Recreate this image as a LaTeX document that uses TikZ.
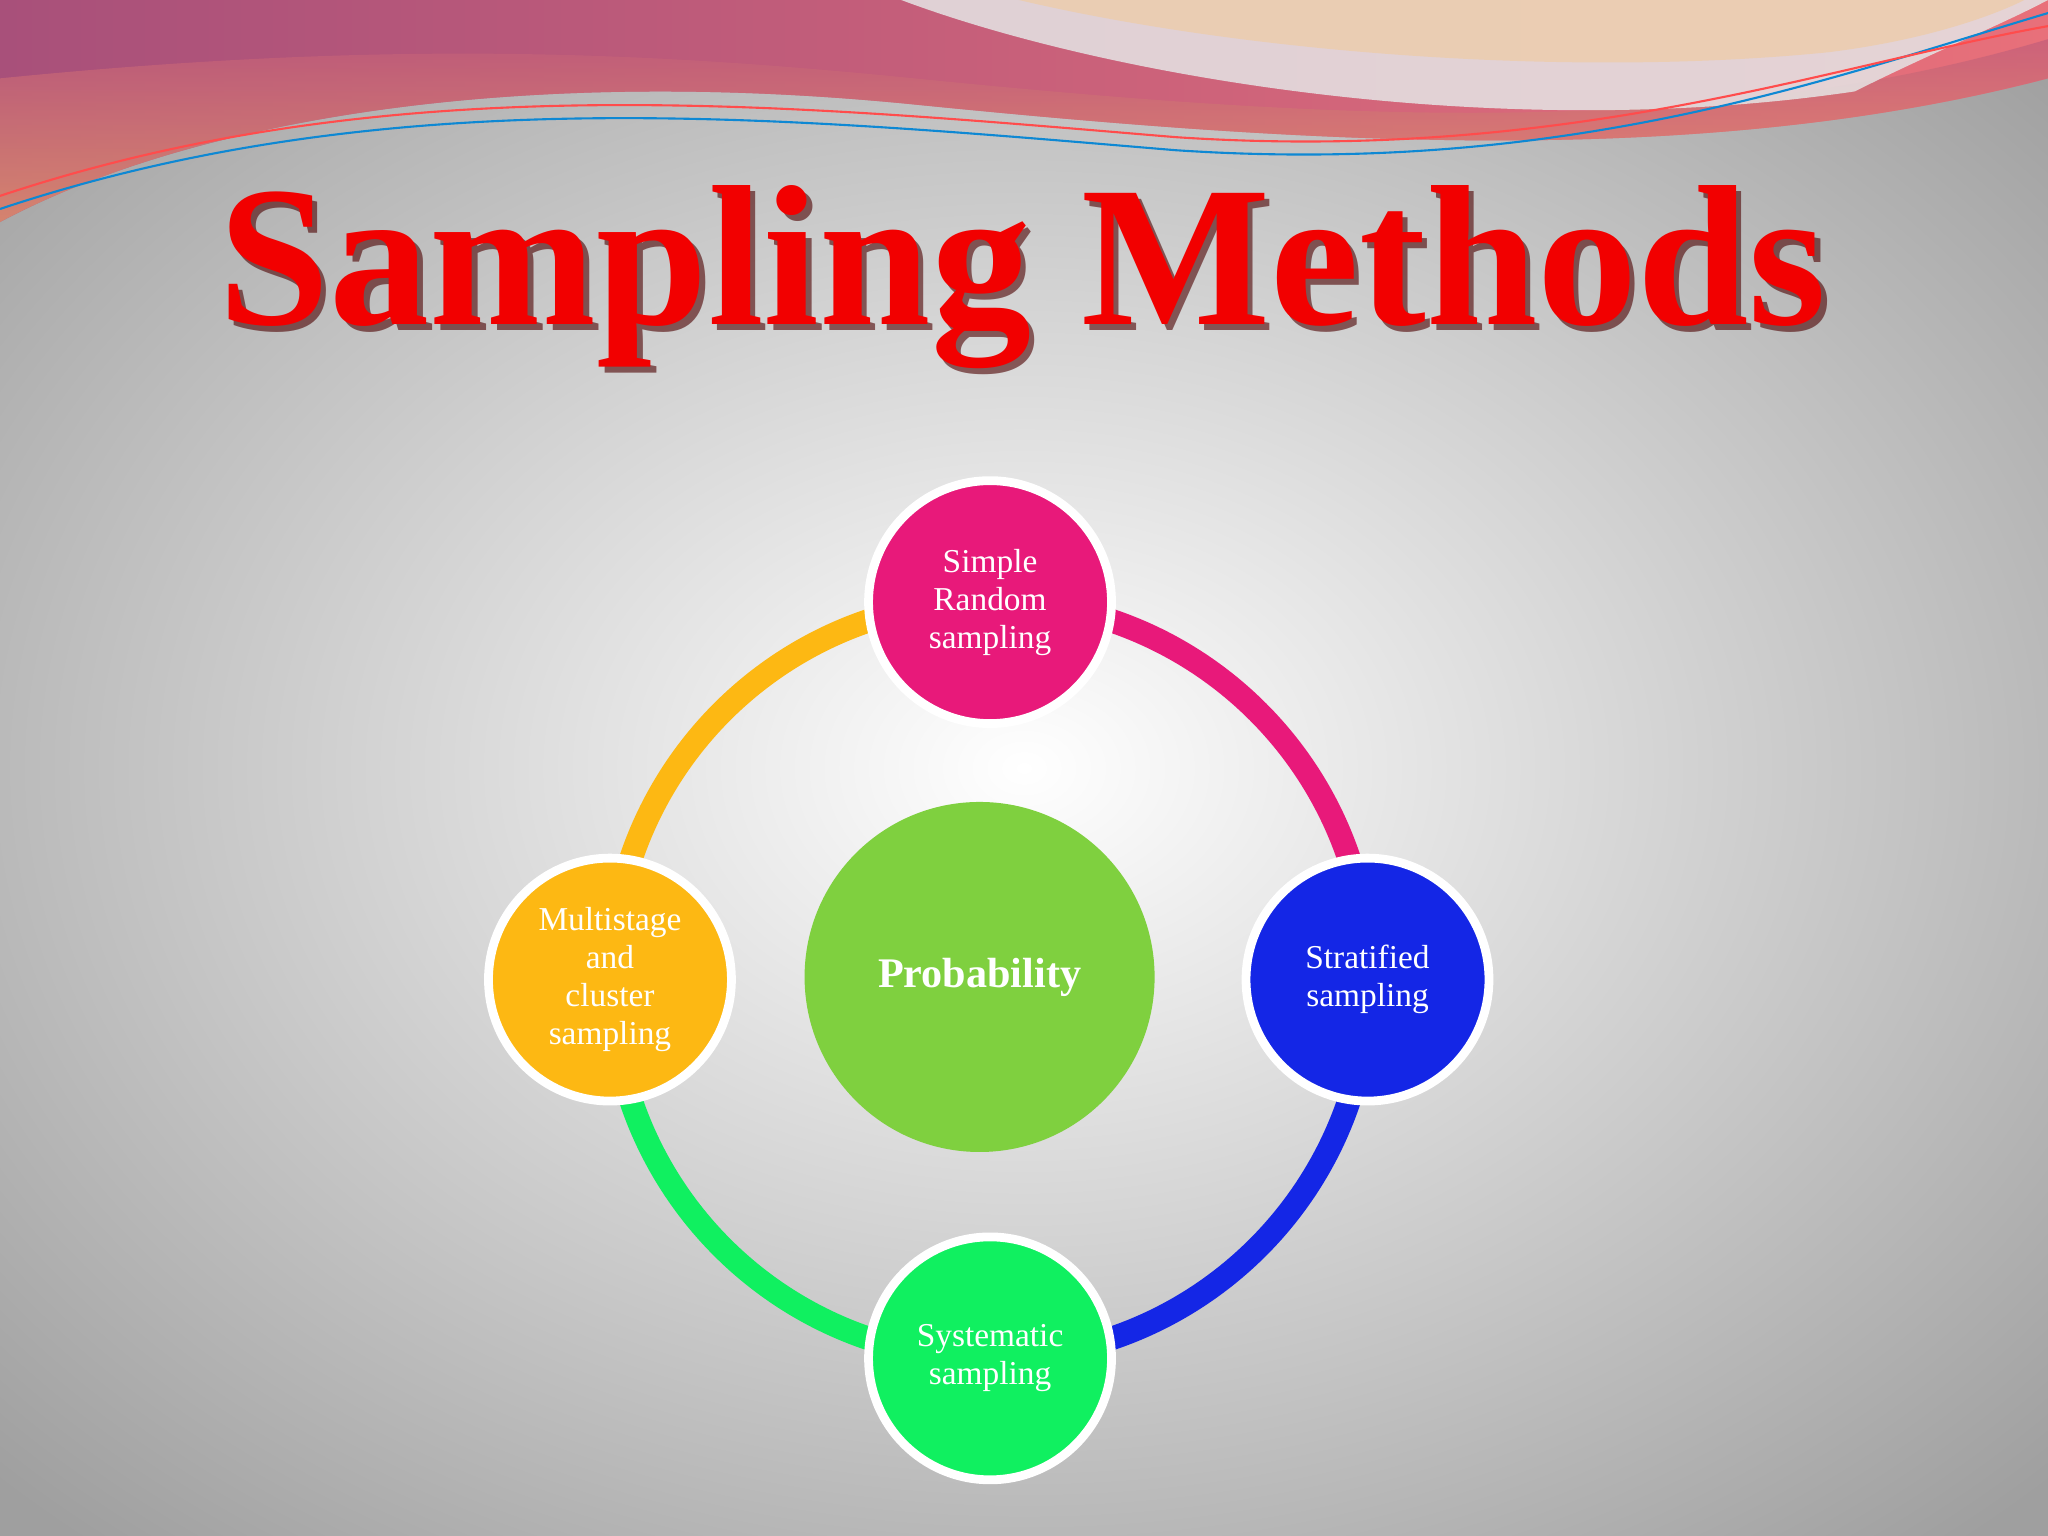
\documentclass[tikz,border=0pt]{standalone}
\usepackage{fontspec}
\setmainfont{Liberation Serif}
\definecolor{cpink}{HTML}{E8197A}
\definecolor{cblue}{HTML}{1426E6}
\definecolor{cgreen}{HTML}{10F060}
\definecolor{corange}{HTML}{FDB813}
\definecolor{ccenter}{HTML}{7FD03F}
\definecolor{bandL}{HTML}{A8507A}
\definecolor{bandR}{HTML}{E8707A}
\definecolor{bandO}{HTML}{E89A6A}
\begin{document}
\begin{tikzpicture}[x=0.013061cm,y=-0.013061cm,
  arcline/.style={line width=18*0.013061cm}]
\useasboundingbox (0,0) rectangle (1568,1176);
\shade[inner color=white,outer color=gray!75] (-300,-200) rectangle (1868,1376);
% top band
\shade[left color=bandL,right color=bandR] (0,0) -- (1568,0) -- (1568,60) .. controls (1300,130) and (1000,110) .. (700,80) .. controls (400,50) and (150,90) .. (0,170) -- cycle;
\shade[top color=bandR!40!bandL,bottom color=bandO,opacity=0.7] (0,60) .. controls (300,30) and (500,40) .. (700,60) .. controls (1000,90) and (1300,110) .. (1568,30) -- (1568,60) .. controls (1300,130) and (1000,110) .. (700,80) .. controls (400,50) and (150,90) .. (0,170) -- cycle;
\fill[gray!20,opacity=0.85] (690,0) .. controls (850,60) and (1150,110) .. (1420,70) .. controls (1480,40) and (1530,20) .. (1568,0) -- cycle;
\fill[orange!30!brown!40,opacity=0.8] (780,0) .. controls (950,40) and (1200,60) .. (1400,40) .. controls (1480,30) and (1530,10) .. (1550,0) -- cycle;
\draw[cyan!70!blue,line width=0.6pt] (0,160) .. controls (300,60) and (600,90) .. (900,115) .. controls (1200,135) and (1400,60) .. (1568,10);
\draw[red!70,line width=0.6pt] (0,150) .. controls (300,50) and (600,80) .. (900,105) .. controls (1200,125) and (1400,50) .. (1568,20);
% title
\node[font=\fontsize{57}{62}\selectfont\bfseries,text=black!70!red,opacity=0.6] at (787,217) {Sampling Methods};
\node[font=\fontsize{57}{62}\selectfont\bfseries,text=red!95!black] (title) at (783,212) {Sampling Methods};
% ring
\coordinate (O) at (758,750);
\draw[arcline,cpink] (758,460) arc[start angle=-90,end angle=0,radius=290];
\draw[arcline,cblue] (1048,750) arc[start angle=0,end angle=90,radius=290];
\draw[arcline,cgreen] (758,1040) arc[start angle=90,end angle=180,radius=290];
\draw[arcline,corange] (468,750) arc[start angle=180,end angle=270,radius=290];
% center
\node[circle,fill=ccenter,minimum size=268*0.013061cm,inner sep=0pt,text=white,font=\fontsize{12}{14}\selectfont\bfseries] (prob) at (750,748) {Probability};
\tikzset{small/.style={circle,draw=white,line width=2.5pt,minimum size=186*0.013061cm,inner sep=0pt,text=white,align=center,font=\fontsize{9.5}{10.8}\selectfont}}
\node[small,fill=cpink] (srs) at (758,461) {Simple\\Random\\sampling};
\node[small,fill=cblue] (str) at (1047,750) {Stratified\\sampling};
\node[small,fill=cgreen] (sys) at (758,1040) {Systematic\\sampling};
\node[small,fill=corange] (mul) at (467,750) {Multistage\\and\\cluster\\sampling};
\end{tikzpicture}
\end{document}
